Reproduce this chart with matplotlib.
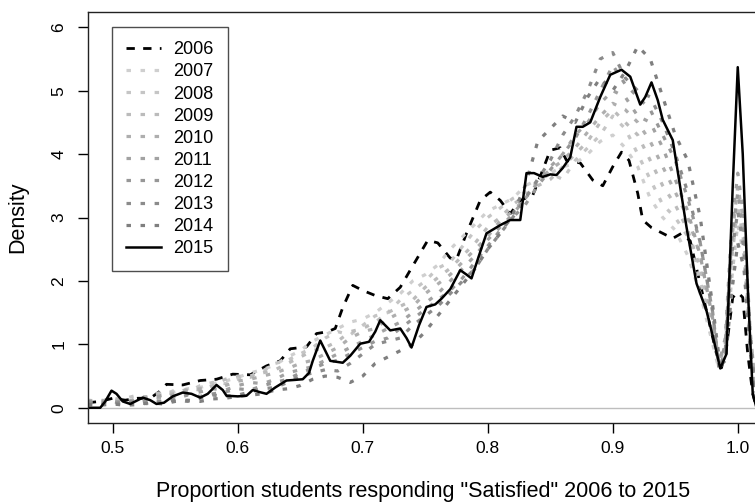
import numpy as np
import matplotlib
matplotlib.use("Agg")
import matplotlib.pyplot as plt

plt.rcParams['font.family'] = ['Liberation Sans', 'DejaVu Sans']

# 2006 (dashed) and 2015 (solid)
x2006 = [0.480, 0.490, 0.500, 0.510, 0.520, 0.530, 0.537, 0.543, 0.556, 0.570,
         0.583, 0.596, 0.610, 0.623, 0.634, 0.642, 0.655, 0.663, 0.672, 0.678,
         0.684, 0.692, 0.700, 0.710, 0.720, 0.730, 0.738, 0.752, 0.760, 0.770,
         0.775, 0.783, 0.794, 0.802, 0.810, 0.818, 0.826, 0.836, 0.844, 0.850,
         0.858, 0.863, 0.874, 0.884, 0.892, 0.900, 0.907, 0.913, 0.920, 0.924,
         0.931, 0.940, 0.948, 0.955, 0.962, 0.967, 0.975, 0.983, 0.987, 0.991,
         0.996, 1.000, 1.004, 1.008, 1.012, 1.015]
y2006 = [0.08, 0.10, 0.15, 0.12, 0.15, 0.15, 0.25, 0.37, 0.36, 0.43,
         0.45, 0.53, 0.52, 0.66, 0.74, 0.93, 0.96, 1.17, 1.20, 1.25,
         1.58, 1.93, 1.85, 1.77, 1.72, 1.90, 2.17, 2.64, 2.60, 2.36,
         2.34, 2.75, 3.27, 3.40, 3.27, 3.06, 3.27, 3.35, 3.75, 4.06,
         4.10, 3.90, 3.86, 3.59, 3.50, 3.80, 4.03, 3.90, 3.38, 2.96,
         2.84, 2.75, 2.67, 2.75, 2.63, 2.20, 1.53, 0.85, 0.63, 0.95,
         1.74, 1.82, 1.74, 0.85, 0.22, 0.00]

x2015 = [0.480, 0.490, 0.494, 0.499, 0.503, 0.508, 0.514, 0.520, 0.524, 0.530,
         0.535, 0.541, 0.548, 0.556, 0.563, 0.570, 0.576, 0.583, 0.588, 0.591,
         0.600, 0.607, 0.612, 0.617, 0.623, 0.630, 0.639, 0.646, 0.652, 0.657,
         0.660, 0.666, 0.670, 0.674, 0.684, 0.690, 0.698, 0.705, 0.710, 0.714,
         0.718, 0.722, 0.730, 0.735, 0.739, 0.745, 0.751, 0.758, 0.763, 0.770,
         0.778, 0.783, 0.787, 0.793, 0.799, 0.805, 0.810, 0.818, 0.826, 0.831,
         0.837, 0.844, 0.850, 0.855, 0.860, 0.866, 0.871, 0.876, 0.882, 0.890,
         0.898, 0.907, 0.914, 0.918, 0.922, 0.926, 0.931, 0.936, 0.940, 0.948,
         0.953, 0.959, 0.967, 0.975, 0.981, 0.986, 0.991, 0.996, 1.000, 1.004,
         1.008, 1.012, 1.015]
y2015 = [0.00, 0.00, 0.10, 0.27, 0.22, 0.10, 0.06, 0.12, 0.16, 0.12,
         0.06, 0.08, 0.18, 0.24, 0.22, 0.16, 0.22, 0.36, 0.28, 0.19,
         0.18, 0.19, 0.28, 0.25, 0.22, 0.32, 0.43, 0.44, 0.45, 0.55,
         0.74, 1.06, 0.90, 0.74, 0.71, 0.82, 1.01, 1.04, 1.20, 1.38,
         1.30, 1.22, 1.25, 1.10, 0.95, 1.30, 1.59, 1.63, 1.72, 1.87,
         2.17, 2.10, 2.04, 2.40, 2.75, 2.82, 2.88, 2.96, 2.96, 3.70,
         3.70, 3.64, 3.68, 3.67, 3.78, 3.95, 4.43, 4.43, 4.50, 4.90,
         5.25, 5.33, 5.22, 5.00, 4.78, 4.90, 5.13, 4.85, 4.54, 4.22,
         3.60, 2.85, 1.96, 1.53, 1.05, 0.62, 0.85, 3.50, 5.37, 4.00,
         1.90, 0.22, 0.00]

# 2007-2014 (dotted) read on a shared grid
x_mid = [0.48, 0.49, 0.50, 0.51, 0.52, 0.53, 0.54, 0.55, 0.56, 0.57,
         0.58, 0.59, 0.60, 0.61, 0.62, 0.63, 0.64, 0.65, 0.66, 0.67,
         0.68, 0.69, 0.70, 0.71, 0.72, 0.73, 0.74, 0.75, 0.76, 0.77,
         0.78, 0.79, 0.80, 0.81, 0.82, 0.83, 0.84, 0.85, 0.86, 0.87,
         0.88, 0.89, 0.90, 0.91, 0.92, 0.93, 0.94, 0.95, 0.96, 0.97,
         0.98, 0.985, 0.99, 0.995, 1.00, 1.005, 1.01, 1.015]
y2007 = [0.08, 0.10, 0.12, 0.10, 0.14, 0.18, 0.22, 0.25, 0.30, 0.32,
         0.38, 0.42, 0.48, 0.55, 0.60, 0.68, 0.80, 0.90, 1.05, 1.15,
         1.25, 1.35, 1.40, 1.50, 1.65, 1.80, 2.00, 2.10, 2.25, 2.50,
         2.70, 2.90, 3.10, 3.20, 3.30, 3.50, 3.60, 3.70, 3.80, 3.85,
         4.00, 4.20, 4.30, 4.10, 3.80, 3.30, 3.00, 2.80, 2.40, 1.80,
         1.00, 0.60, 0.80, 1.80, 2.60, 2.20, 0.90, 0.10]
y2008 = [0.10, 0.08, 0.10, 0.15, 0.20, 0.15, 0.20, 0.28, 0.25, 0.35,
         0.40, 0.38, 0.45, 0.50, 0.58, 0.70, 0.75, 0.85, 0.95, 1.10,
         1.20, 1.15, 1.30, 1.45, 1.50, 1.70, 1.85, 2.00, 2.20, 2.30,
         2.55, 2.80, 3.00, 3.15, 3.30, 3.40, 3.55, 3.70, 3.60, 3.90,
         4.10, 4.30, 4.60, 4.40, 4.00, 3.60, 3.20, 3.00, 2.70, 2.00,
         1.20, 0.70, 0.80, 2.00, 2.90, 2.40, 1.00, 0.15]
y2009 = [0.12, 0.10, 0.15, 0.12, 0.10, 0.20, 0.25, 0.22, 0.30, 0.28,
         0.35, 0.45, 0.50, 0.48, 0.55, 0.60, 0.70, 0.80, 0.90, 0.95,
         1.05, 1.20, 1.25, 1.35, 1.50, 1.60, 1.70, 1.90, 2.05, 2.20,
         2.40, 2.60, 2.85, 3.00, 3.20, 3.35, 3.50, 3.60, 3.80, 4.00,
         4.20, 4.50, 4.70, 4.50, 4.30, 3.90, 3.50, 3.20, 2.80, 2.20,
         1.30, 0.75, 0.90, 2.30, 3.20, 2.60, 1.10, 0.15]
y2010 = [0.08, 0.12, 0.10, 0.08, 0.15, 0.18, 0.15, 0.22, 0.28, 0.30,
         0.30, 0.35, 0.42, 0.45, 0.50, 0.55, 0.62, 0.70, 0.75, 0.85,
         0.95, 1.10, 1.20, 1.25, 1.40, 1.50, 1.60, 1.80, 1.95, 2.10,
         2.30, 2.50, 2.70, 2.95, 3.10, 3.30, 3.60, 3.75, 3.90, 4.10,
         4.35, 4.60, 4.80, 4.70, 4.50, 4.20, 3.80, 3.40, 3.00, 2.40,
         1.40, 0.70, 1.00, 2.60, 3.50, 2.90, 1.20, 0.15]
y2011 = [0.10, 0.10, 0.08, 0.12, 0.10, 0.15, 0.20, 0.18, 0.22, 0.25,
         0.30, 0.28, 0.35, 0.40, 0.38, 0.45, 0.55, 0.60, 0.65, 0.75,
         0.85, 0.95, 1.05, 1.15, 1.25, 1.35, 1.50, 1.65, 1.80, 2.00,
         2.20, 2.40, 2.65, 2.85, 3.05, 3.30, 3.55, 3.80, 4.00, 4.30,
         4.50, 4.80, 5.00, 4.90, 4.60, 4.50, 4.10, 3.60, 3.10, 2.40,
         1.40, 0.70, 1.10, 2.80, 3.70, 3.00, 1.20, 0.15]
y2012 = [0.10, 0.05, 0.10, 0.06, 0.08, 0.12, 0.10, 0.15, 0.20, 0.18,
         0.22, 0.25, 0.30, 0.28, 0.35, 0.40, 0.45, 0.55, 0.62, 0.70,
         0.75, 0.85, 0.95, 1.05, 1.10, 1.25, 1.40, 1.55, 1.70, 1.85,
         2.05, 2.30, 2.55, 2.80, 3.00, 3.20, 3.50, 3.75, 4.00, 4.25,
         4.60, 5.00, 5.40, 5.10, 4.90, 4.70, 4.30, 3.90, 3.30, 2.60,
         1.50, 0.65, 1.00, 2.60, 3.40, 2.70, 1.10, 0.12]
y2013 = [0.05, 0.08, 0.05, 0.10, 0.08, 0.06, 0.10, 0.12, 0.10, 0.15,
         0.20, 0.18, 0.20, 0.25, 0.30, 0.32, 0.40, 0.50, 0.55, 0.60,
         0.58, 0.70, 0.85, 1.00, 1.05, 1.10, 1.30, 1.45, 1.60, 1.80,
         2.00, 2.20, 2.50, 2.75, 3.00, 3.30, 3.60, 3.90, 4.30, 4.60,
         5.00, 5.50, 5.60, 5.20, 5.00, 4.90, 4.50, 4.00, 3.40, 2.60,
         1.50, 0.60, 0.90, 2.40, 3.10, 2.50, 1.00, 0.10]
y2014 = [0.05, 0.04, 0.06, 0.04, 0.05, 0.08, 0.06, 0.10, 0.12, 0.10,
         0.14, 0.15, 0.18, 0.20, 0.22, 0.28, 0.30, 0.35, 0.45, 0.50,
         0.48, 0.40, 0.50, 0.70, 0.80, 0.90, 1.00, 1.20, 1.45, 1.70,
         1.95, 2.20, 2.50, 2.75, 3.05, 3.50, 4.20, 4.40, 4.60, 4.50,
         4.90, 5.20, 5.00, 5.30, 5.70, 5.50, 4.90, 4.30, 3.90, 3.00,
         1.60, 0.80, 0.70, 1.80, 2.60, 2.20, 0.90, 0.10]

mid_years = ['2007', '2008', '2009', '2010', '2011', '2012', '2013', '2014']
mid_values = [y2007, y2008, y2009, y2010, y2011, y2012, y2013, y2014]
mid_greys = ['#cfcfcf', '#c5c5c5', '#bbbbbb', '#aeaeae', '#a2a2a2', '#979797', '#8b8b8b', '#7f7f7f']

fig = plt.figure(figsize=(7.55, 5.04), dpi=100)
ax = fig.add_axes([88 / 755, 81 / 504, 672 / 755, 411 / 504])

ax.axhline(0, color='#bebebe', lw=1, zorder=1)

ax.plot(x2006, y2006, color='black', lw=2, dashes=(3, 3), label='2006')
for yr, vals, c in zip(mid_years, mid_values, mid_greys):
    ax.plot(x_mid, vals, color=c, lw=2.3, dashes=(1.4, 3.0), label=yr)
ax.plot(x2015, y2015, color='black', lw=1.8, label='2015')

ax.set_xlim(0.4802, 1.0178)
ax.set_ylim(-0.24, 6.24)
ax.set_xticks([0.5, 0.6, 0.7, 0.8, 0.9, 1.0])
ax.set_xticklabels(['0.5', '0.6', '0.7', '0.8', '0.9', '1.0'])
ax.set_yticks(range(7))
ax.set_yticklabels([str(i) for i in range(7)], rotation=90, va='center')
ax.tick_params(axis='both', direction='out', length=7.2, width=1,
               labelsize=12.5, colors='black')
ax.tick_params(axis='x', pad=5.5)
ax.tick_params(axis='y', pad=8.5)
for s in ax.spines.values():
    s.set_linewidth(1)
    s.set_color('#222222')

fig.text(18 / 755, 1 - 217 / 504, 'Density', rotation=90, fontsize=15.5,
         ha='center', va='center')
fig.text(423.5 / 755, 1 - 492 / 504,
         'Proportion students responding "Satisfied" 2006 to 2015',
         fontsize=15.5, ha='center', va='center')

leg = ax.legend(loc='upper left', bbox_to_anchor=(24 / 672, 396 / 411),
                borderaxespad=0, fontsize=13, frameon=True, fancybox=False,
                handlelength=1.9, handletextpad=0.7, labelspacing=0.28,
                borderpad=0.8)
leg.get_frame().set_edgecolor('#222222')
leg.get_frame().set_linewidth(1)

fig.savefig('out.png', dpi=100)
